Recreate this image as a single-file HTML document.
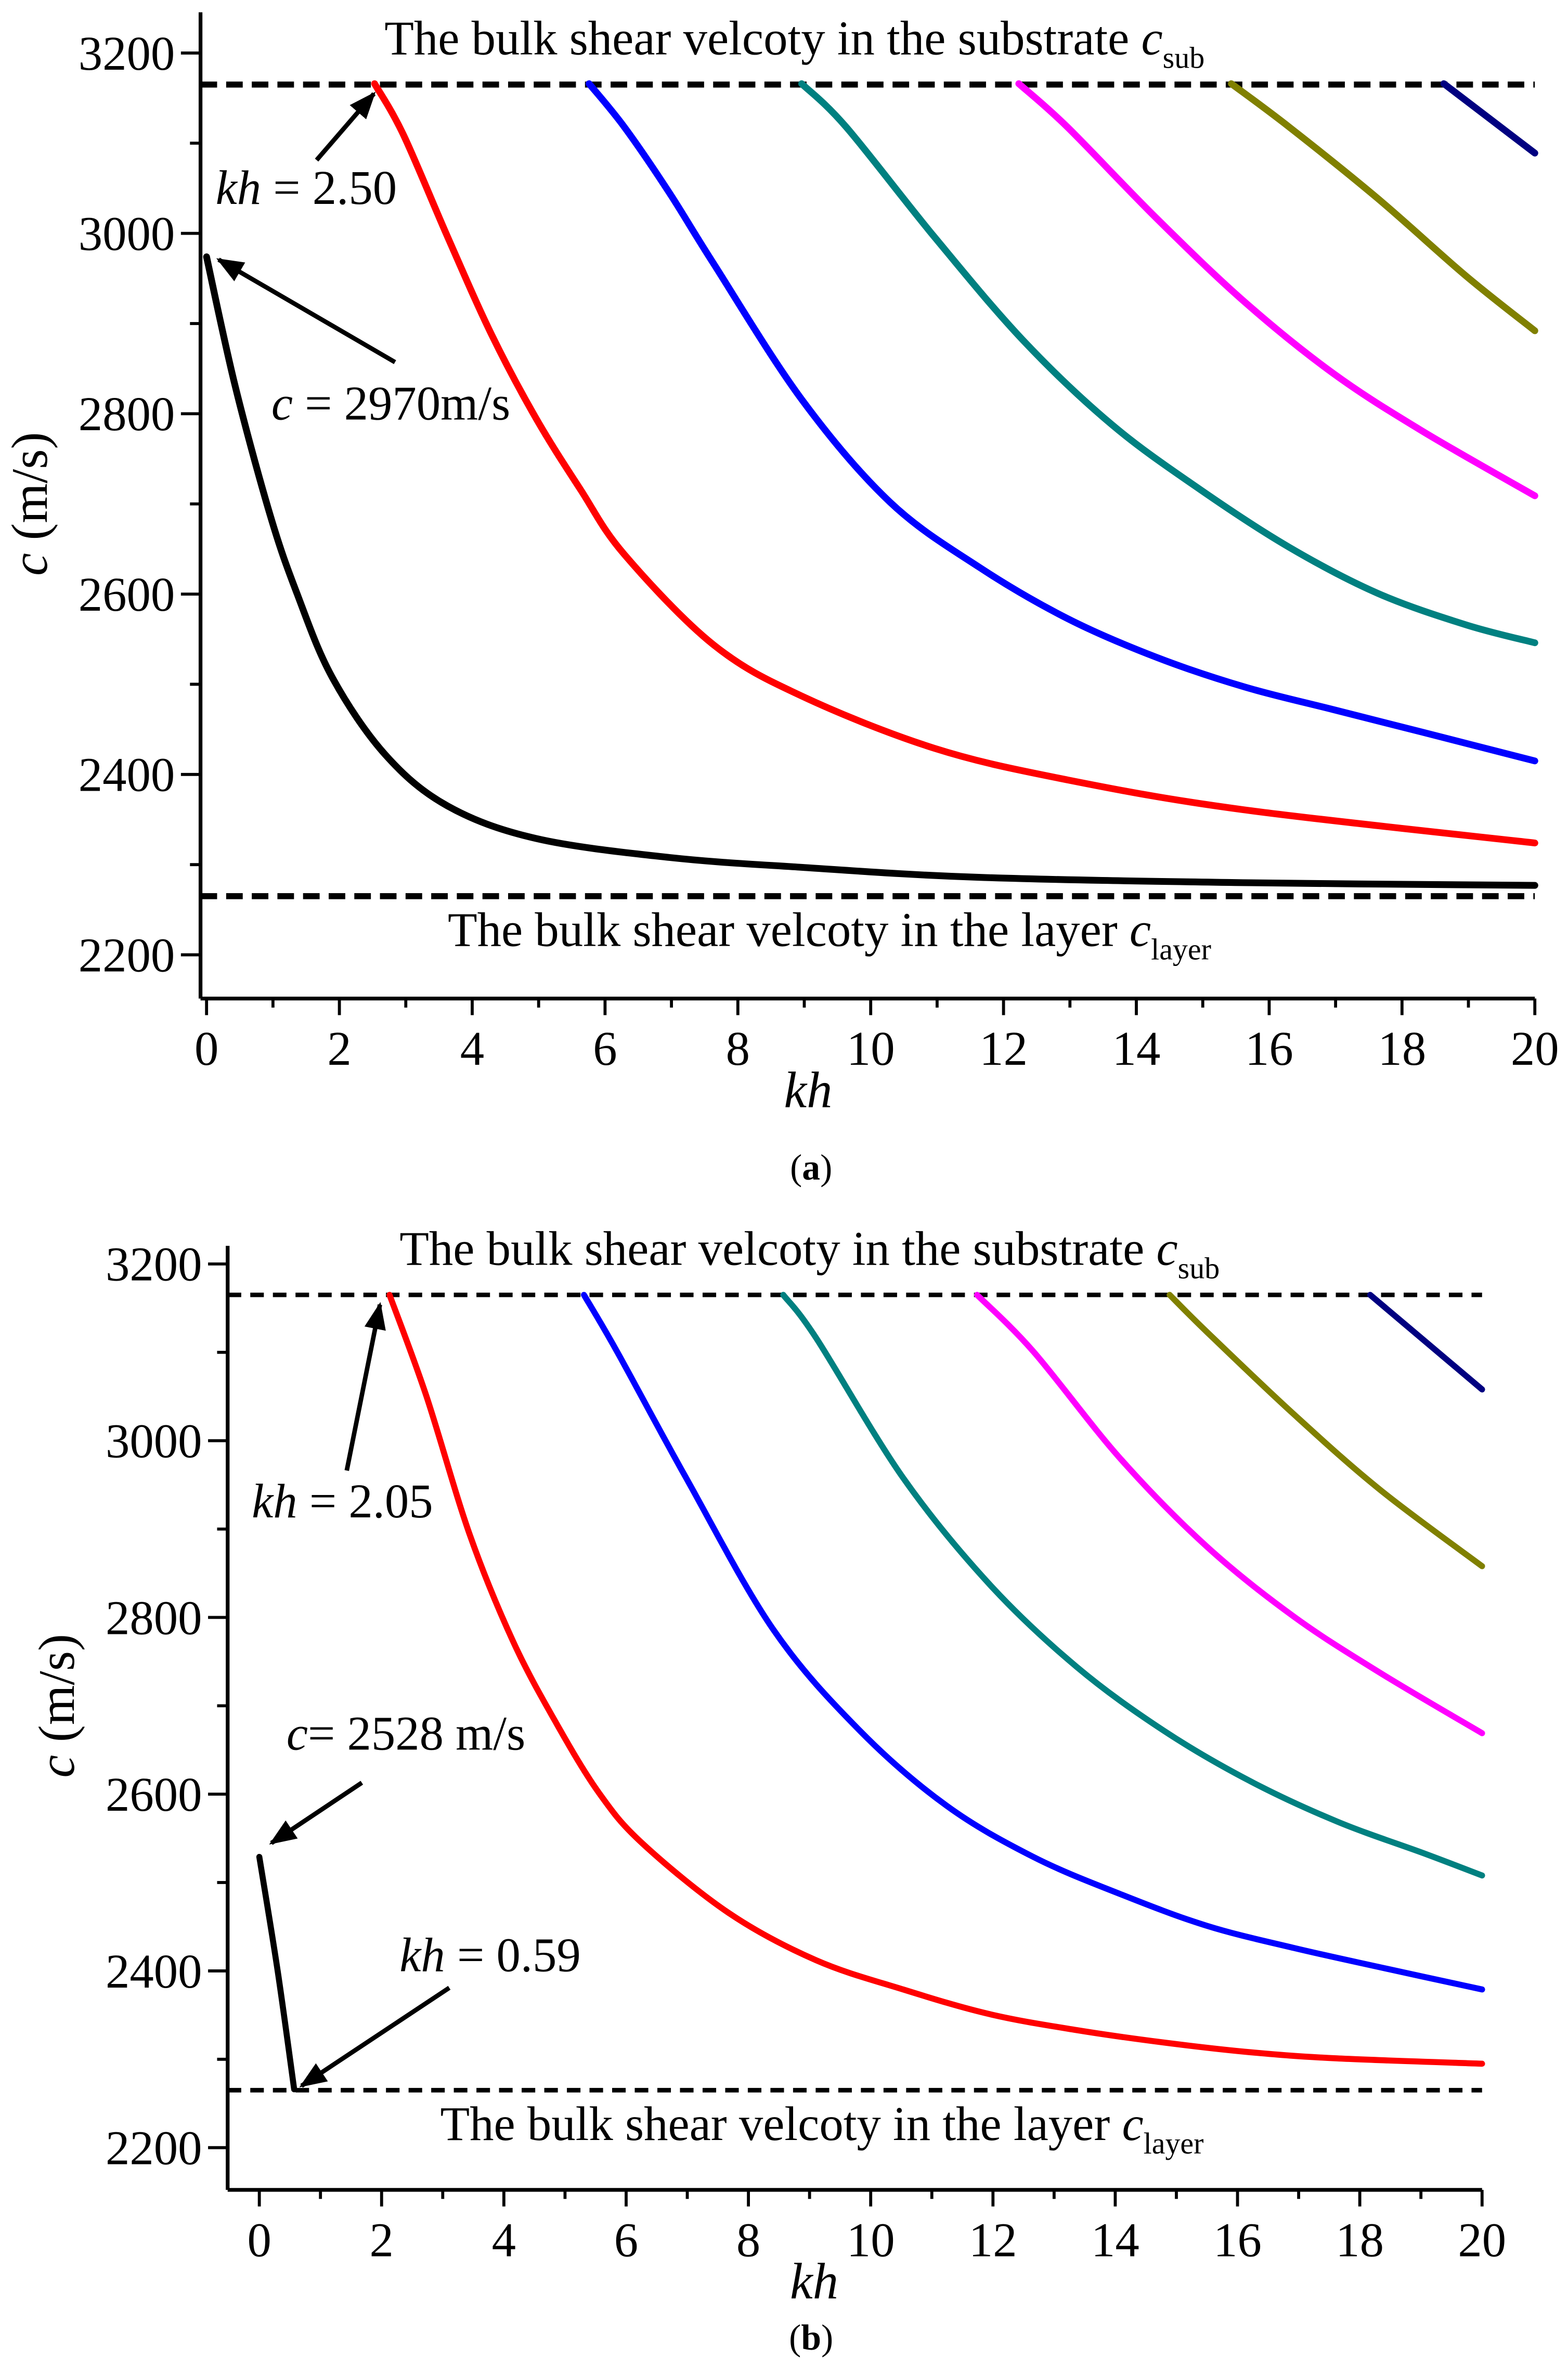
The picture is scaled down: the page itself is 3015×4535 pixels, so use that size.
<!DOCTYPE html>
<html><head><meta charset="utf-8">
<style>
html,body{margin:0;padding:0;background:#fff;}
svg{display:block;}
svg text{font-family:"Liberation Serif","DejaVu Serif",serif;fill:#000;}
</style></head>
<body>
<svg id="chart" width="3015" height="4535" viewBox="0 0 1040 1564" font-family="Liberation Serif, serif" xmlns="http://www.w3.org/2000/svg">
<defs>
<marker id="arr" viewBox="0 0 10 10" refX="9" refY="5" markerWidth="6" markerHeight="6" orient="auto"><path d="M0,1 L10,5 L0,9 Z" fill="#000"/></marker>
</defs>
</svg>
<script>
// Panel (a) data
const aBlackX=[0,0.43,0.96,1.36,1.89,2.69,3.63,4.96,6.96,8.96,11.6,15.6,20];
const aBlackY=[2974,2831,2687,2601,2508,2422,2365,2329,2308,2297,2286,2280,2277];
const aRedX=[2.53,2.96,3.63,4.29,4.96,5.63,6.29,7.63,8.96,10.96,12.96,15.6,20];
const aRedY=[3166,3110,2996,2888,2795,2716,2644,2544,2487,2429,2394,2361,2324];
const aBlueX=[5.76,6.29,6.96,7.63,8.96,10.29,11.63,12.96,14.3,15.63,16.96,18.3,20];
const aBlueY=[3166,3118,3046,2967,2816,2702,2630,2573,2530,2497,2472,2447,2415];
const aTealX=[8.96,9.63,10.96,12.3,13.63,14.96,16.3,17.63,18.96,20];
const aTealY=[3166,3118,2996,2881,2788,2716,2652,2601,2566,2546];
const aMagX=[12.23,12.96,14.3,15.63,16.96,18.3,20];
const aMagY=[3166,3118,3017,2924,2845,2781,2709];
const aOliveX=[15.43,16.3,17.63,18.96,20];
const aOliveY=[3166,3118,3039,2953,2892];
const aNavyX=[18.63,20];
const aNavyY=[3166,3089];
// Panel (b) data
const bBlackX=[0,0.3,0.57];
const bBlackY=[2529,2400,2266];
const bRedX=[2.13,2.73,3.44,4.15,4.86,5.56,6.27,7.69,9.11,10.53,11.95,13.37,14.79,16.2,17.63,20];
const bRedY=[3165,3051,2894,2773,2680,2601,2544,2465,2412,2379,2351,2333,2319,2308,2301,2295];
const bBlueX=[5.31,5.85,6.98,8.4,9.82,11.24,12.66,14.08,15.5,16.92,18.34,20];
const bBlueY=[3165,3101,2958,2787,2672,2587,2529,2487,2451,2426,2404,2379];
const bTealX=[8.57,9.11,10.53,11.95,13.37,14.79,16.2,17.63,19.05,20];
const bTealY=[3165,3116,2958,2837,2744,2672,2615,2569,2533,2508];
const bMagX=[11.74,12.66,14.08,15.5,16.92,18.34,20];
const bMagY=[3165,3101,2980,2880,2801,2737,2669];
const bOliveX=[14.89,15.5,16.92,18.34,20];
const bOliveY=[3165,3123,3030,2944,2858];
const bNavyX=[18.17,20];
const bNavyY=[3165,3058];
const xTicks=[0,2,4,6,8,10,12,14,16,18,20];
const yTicks=[2200,2400,2600,2800,3000,3200];
const cSub=3165, cLayer=2265;

const NS="http://www.w3.org/2000/svg";
const svg=document.getElementById('chart');
function mk(tag,attrs,parent){const e=document.createElementNS(NS,tag);for(const k in attrs)e.setAttribute(k,attrs[k]);(parent||svg).appendChild(e);return e;}

function spline(pts){
  let d="M"+pts[0][0]+","+pts[0][1];
  for(let i=0;i<pts.length-1;i++){
    const p0=pts[Math.max(0,i-1)],p1=pts[i],p2=pts[i+1],p3=pts[Math.min(pts.length-1,i+2)];
    const c1x=p1[0]+(p2[0]-p0[0])/6,c1y=p1[1]+(p2[1]-p0[1])/6;
    const c2x=p2[0]-(p3[0]-p1[0])/6,c2y=p2[1]-(p3[1]-p1[1])/6;
    d+=" C"+c1x+","+c1y+" "+c2x+","+c2y+" "+p2[0]+","+p2[1];
  }
  return d;
}
const FF='Liberation Serif, serif';

function panel(P){
  const g=mk('g',{'font-family':FF});
  
  
  const X=v=>P.x0+(v)*P.xs, Y=v=>P.y0-(v-3200)*P.ys;
  const ya=mk('line',{x1:P.ax,y1:P.top,x2:P.ax,y2:P.bot,stroke:'#000','stroke-width':2.5},g);
  
  const xa=mk('line',{x1:P.ax,y1:P.bot,x2:X(20),y2:P.bot,stroke:'#000','stroke-width':2.5},g);
  
  for(let v=0;v<=20;v++){
    const major=v%2===0;
    const t=mk('line',{x1:X(v),y1:P.bot,x2:X(v),y2:P.bot+(major?11:6),stroke:'#000','stroke-width':2},g);
    
  }
  xTicks.forEach(v=>{
    const t=mk('text',{x:X(v),y:P.bot+44,'font-size':32,'text-anchor':'middle','font-family':FF},g);t.textContent=v;
    
  });
  for(let v=2200;v<=3200;v+=100){
    const major=v%200===0;
    const t=mk('line',{x1:P.ax,y1:Y(v),x2:P.ax-(major?13:7),y2:Y(v),stroke:'#000','stroke-width':2},g);
    
  }
  yTicks.forEach(v=>{
    const t=mk('text',{x:P.ax-17,y:Y(v)+11,'font-size':32,'text-anchor':'end','font-family':FF},g);t.textContent=v;
    
  });
  const xt=mk('text',{x:P.xtX,y:P.bot+72,'font-size':34,'font-style':'italic','text-anchor':'middle','font-family':FF},g);xt.textContent='kh';
  
  const ytx=P.ax-102, yty=(Y(2200)+Y(3200))/2;
  const yt=mk('text',{x:ytx,y:yty,'font-size':34,'text-anchor':'middle','font-family':FF,transform:`rotate(-90 ${ytx} ${yty})`},g);
  yt.innerHTML='<tspan font-style="italic">c</tspan> (m/s)';
  
  const d1=mk('line',{x1:P.ax,y1:Y(cSub),x2:X(20),y2:Y(cSub),stroke:'#000','stroke-width':P.dw,'stroke-dasharray':P.dash},g);
  
  const d2=mk('line',{x1:P.ax,y1:Y(cLayer),x2:X(20),y2:Y(cLayer),stroke:'#000','stroke-width':P.dw,'stroke-dasharray':P.dash},g);
  
  const lt1=mk('text',{x:P.lab1x,y:Y(cSub)-20,'font-size':32,'font-family':FF},g);
  lt1.innerHTML='The bulk shear velcoty in the substrate <tspan font-style="italic">c</tspan><tspan font-size="20" dy="9">sub</tspan>';
  
  const lt2=mk('text',{x:P.lab2x,y:Y(cLayer)+33,'font-size':32,'font-family':FF},g);
  lt2.innerHTML='The bulk shear velcoty in the layer <tspan font-style="italic">c</tspan><tspan font-size="20" dy="9">layer</tspan>';
  
  P.series.forEach(s=>{
    const pts=s.x.map((v,i)=>[X(v),Y(s.y[i])]);
    const p=mk('path',{d:spline(pts),fill:'none',stroke:s.c,'stroke-width':P.lw,'stroke-linecap':'round'},g);
    
  });
  P.ann.forEach(a=>{
    const l=mk('line',{x1:a.x1,y1:a.y1,x2:a.x2,y2:a.y2,stroke:'#000','stroke-width':3,'marker-end':'url(#arr)'},g);
    
    const t=mk('text',{x:a.tx,y:a.ty,'font-size':32,'font-family':FF},g);t.innerHTML=a.html;
    
  });
  const cap=mk('text',{x:P.capx,y:P.capy,'font-size':24,'text-anchor':'middle','font-family':FF},g);
  cap.innerHTML='(<tspan font-weight="bold">'+P.cap+'</tspan>)';
  
}

panel({name:'panel-a',x0:137,xs:44.05,y0:35,ys:0.598,ax:133,top:8,bot:662,dw:4,dash:'11 6',lw:4.5,
  lab1x:255,lab2x:297,xtX:536,capx:538,capy:782,cap:'a',
  series:[{x:aBlackX,y:aBlackY,c:'#000',n:'mode-0-curve'},{x:aRedX,y:aRedY,c:'#ff0000',n:'mode-1-curve'},
    {x:aBlueX,y:aBlueY,c:'#0000ff',n:'mode-2-curve'},{x:aTealX,y:aTealY,c:'#008080',n:'mode-3-curve'},
    {x:aMagX,y:aMagY,c:'#ff00ff',n:'mode-4-curve'},{x:aOliveX,y:aOliveY,c:'#808000',n:'mode-5-curve'},
    {x:aNavyX,y:aNavyY,c:'#000080',n:'mode-6-curve'}],
  ann:[{x1:210,y1:106,x2:248,y2:62,tx:143,ty:135,html:'<tspan font-style="italic">kh</tspan> = 2.50',n:'kh-cutoff-label'},
       {x1:262,y1:240,x2:145,y2:172,tx:180,ty:278,html:'<tspan font-style="italic">c</tspan> = 2970m/s',n:'c-start-label'}]});

panel({name:'panel-b',x0:172,xs:40.55,y0:838,ys:0.586,ax:151,top:826,bot:1452,dw:3,dash:'9 6',lw:4,
  lab1x:265,lab2x:292,xtX:540,capx:538,capy:1558,cap:'b',
  series:[{x:bBlackX,y:bBlackY,c:'#000',n:'mode-0-curve'},{x:bRedX,y:bRedY,c:'#ff0000',n:'mode-1-curve'},
    {x:bBlueX,y:bBlueY,c:'#0000ff',n:'mode-2-curve'},{x:bTealX,y:bTealY,c:'#008080',n:'mode-3-curve'},
    {x:bMagX,y:bMagY,c:'#ff00ff',n:'mode-4-curve'},{x:bOliveX,y:bOliveY,c:'#808000',n:'mode-5-curve'},
    {x:bNavyX,y:bNavyY,c:'#000080',n:'mode-6-curve'}],
  ann:[{x1:230,y1:975,x2:252,y2:865,tx:167,ty:1006,html:'<tspan font-style="italic">kh</tspan> = 2.05',n:'kh-cutoff-label'},
       {x1:240,y1:1182,x2:180,y2:1222,tx:190,ty:1160,html:'<tspan font-style="italic">c</tspan>= 2528 m/s',n:'c-start-label'},
       {x1:298,y1:1318,x2:200,y2:1383,tx:265,ty:1307,html:'<tspan font-style="italic">kh</tspan> = 0.59',n:'kh-end-label'}]});
</script>
</body></html>
